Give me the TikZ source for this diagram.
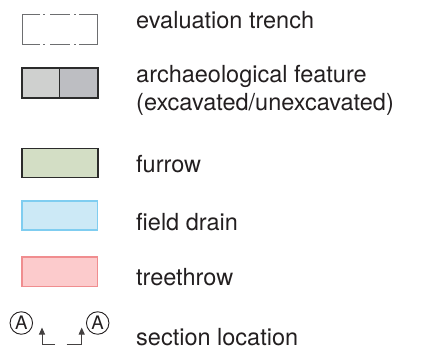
\documentclass[tikz,border=0pt]{standalone}
\usepackage{fontspec}
\setmainfont{TeX Gyre Heros}
\usetikzlibrary{arrows.meta}
\definecolor{txt}{HTML}{231F20}
\definecolor{trenchgray}{HTML}{6D6E70}
\definecolor{featborder}{HTML}{2B2B2B}
\definecolor{featexc}{HTML}{CFD0CF}
\definecolor{featunexc}{HTML}{BDBEC2}
\definecolor{furrowfill}{HTML}{D3DEC5}
\definecolor{drainfill}{HTML}{CCE9F6}
\definecolor{drainline}{HTML}{7FCDF0}
\definecolor{treefill}{HTML}{FCCBCC}
\definecolor{treeline}{HTML}{F08D8F}
\begin{document}
\begin{tikzpicture}[x=1pt,y=-1pt,
  lbl/.style={anchor=base west, inner sep=0pt, text=txt, font=\fontsize{23.5}{27.3}\selectfont, align=left},
  trenchline/.style={draw=trenchgray, line width=1pt},
  swatch/.style={line width=1.2pt},
  secline/.style={draw=txt!85, line width=1pt},
  secarrow/.style={secline, -{Triangle[width=6pt,length=7pt]}},
  seccircle/.style={circle, draw=txt, line width=0.9pt, inner sep=0pt, minimum size=22.5pt, text=txt, font=\fontsize{18.6}{20}\selectfont}
]
\useasboundingbox (0,0) rectangle (443,354);

% evaluation trench
\draw[trenchline] (40,14) -- (22,14) -- (22,44) -- (40,44);
\draw[trenchline] (79,14) -- (97,14) -- (97,44) -- (79,44);
\draw[trenchline] (43,14) -- (44.6,14) (50,14) -- (70,14) (74,14) -- (75.6,14);
\draw[trenchline] (43,44) -- (44.6,44) (50,44) -- (70,44) (74,44) -- (75.6,44);
\node[lbl] (ltrench) at (136,28.3) {evaluation trench};

% archaeological feature
\fill[featexc] (22,68) rectangle (59.5,98);
\fill[featunexc] (59.5,68) rectangle (98,98);
\draw[swatch, draw=featborder] (22,68) rectangle (98,98) (59.5,68) -- (59.5,98);
\node[lbl] (lfeature) at (136,110) {archaeological feature\\(excavated/unexcavated)};

% furrow
\draw[swatch, draw=featborder, fill=furrowfill] (22,148.3) rectangle (98,177.3);
\node[lbl] (lfurrow) at (136,172.3) {furrow};

% field drain
\draw[swatch, draw=drainline, fill=drainfill] (22,201) rectangle (97.5,230);
\node[lbl] (ldrain) at (136,230) {field drain};

% treethrow
\draw[swatch, draw=treeline, fill=treefill] (22,257) rectangle (97.5,286.5);
\node[lbl] (ltree) at (136,285.7) {treethrow};

% section location
\node[seccircle] (ca) at (21.3,323) {A};
\node[seccircle] (cb) at (97.7,323) {A};
\coordinate (a1) at (55,344.3);
\coordinate (a1c) at (42,344.3);
\coordinate (a1t) at (42,327.5);
\coordinate (a2) at (66.7,344.3);
\coordinate (a2c) at (81.7,344.3);
\coordinate (a2t) at (81.7,327.5);
\draw[secarrow] (a1) -- (a1c) -- (a1t);
\draw[secarrow] (a2) -- (a2c) -- (a2t);
\node[lbl] (lsection) at (136,345) {section location};
\end{tikzpicture}
\end{document}
